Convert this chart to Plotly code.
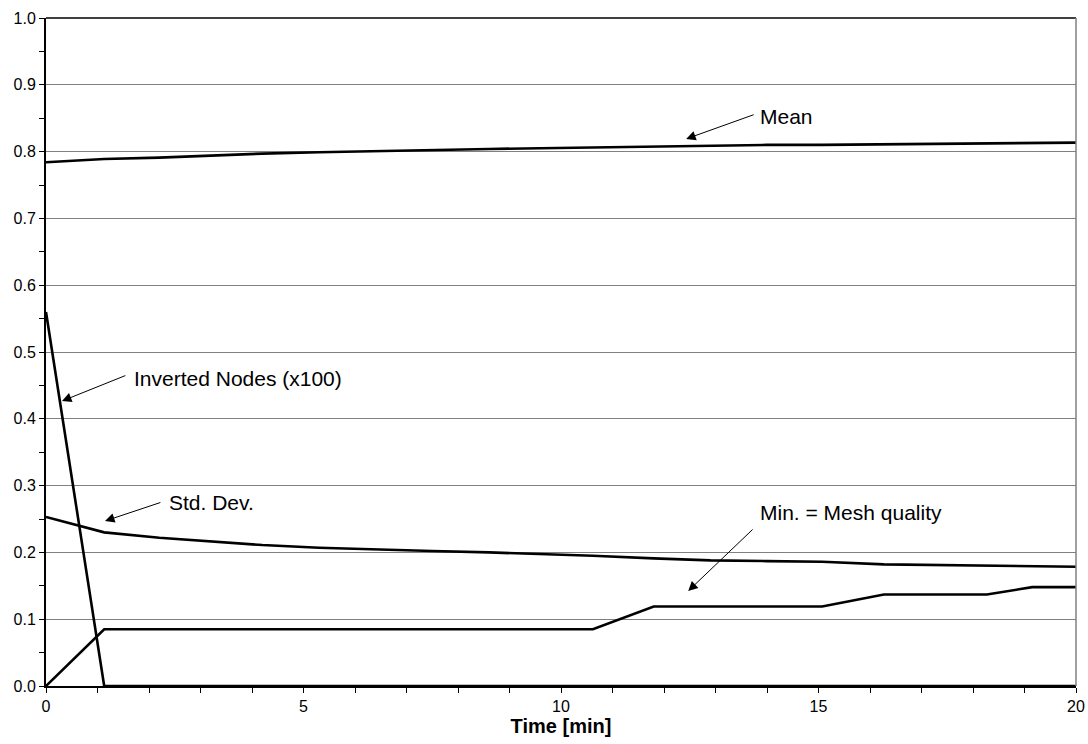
import plotly.graph_objects as go

# ---- data ----
time_min = [0, 1.13, 2.2, 3.2, 4.2, 5.3, 6.4, 7.5, 8.6, 9.6, 10.62,
            11.8, 12.9, 14.0, 15.07, 16.27, 17.3, 18.27, 19.15, 20]
mean_q = [0.784, 0.789, 0.791, 0.794, 0.797, 0.799, 0.801, 0.802, 0.804, 0.805, 0.806,
          0.808, 0.809, 0.810, 0.810, 0.811, 0.812, 0.813, 0.813, 0.8135]
std_dev = [0.253, 0.230, 0.222, 0.216, 0.211, 0.207, 0.204, 0.202, 0.200, 0.198, 0.195,
           0.191, 0.188, 0.187, 0.186, 0.182, 0.181, 0.180, 0.179, 0.1785]
min_q = [0.0, 0.085, 0.085, 0.085, 0.085, 0.085, 0.085, 0.085, 0.085, 0.085, 0.085,
         0.119, 0.119, 0.119, 0.119, 0.137, 0.137, 0.137, 0.148, 0.148]
inverted_x100 = [0.56, 0.0, 0.0, 0.0, 0.0, 0.0, 0.0, 0.0, 0.0, 0.0, 0.0,
                 0.0, 0.0, 0.0, 0.0, 0.0, 0.0, 0.0, 0.0, 0.0]

# annotation labels: (text, head_x, head_y, tail_x, tail_y, text_x, text_y)
labels = [
    ("Mean", 12.43, 0.819, 13.77, 0.856, 13.83, 0.853),
    ("Inverted Nodes (x100)", 0.31, 0.4266, 1.57, 0.4656, 1.67, 0.461),
    ("Std. Dev.", 1.146, 0.247, 2.25, 0.2754, 2.35, 0.274),
    ("Min. = Mesh quality", 12.47, 0.1422, 13.75, 0.2365, 13.82, 0.259),
]

FONT = "Liberation Sans, Arial, sans-serif"

fig = go.Figure()
for name, ys in [("Mean", mean_q), ("Std. Dev.", std_dev),
                 ("Min.", min_q), ("Inverted Nodes (x100)", inverted_x100)]:
    fig.add_trace(go.Scatter(x=time_min, y=ys, mode="lines", name=name,
                             line=dict(color="black", width=2.6), showlegend=False,
                             cliponaxis=False))

annotations = []
for text, hx, hy, tx, ty, lx, ly in labels:
    annotations.append(dict(x=hx, y=hy, ax=tx, ay=ty, xref="x", yref="y",
                            axref="x", ayref="y", text="", showarrow=True,
                            arrowhead=2, arrowsize=1.9, arrowwidth=1, arrowcolor="black"))
    annotations.append(dict(x=lx, y=ly, xref="x", yref="y", text=text, showarrow=False,
                            xanchor="left", yanchor="middle",
                            font=dict(family=FONT, size=21, color="black")))

fig.update_layout(
    width=1088, height=744,
    margin=dict(l=46, r=12, t=18, b=58, autoexpand=False),
    paper_bgcolor="white", plot_bgcolor="white",
    font=dict(family=FONT, size=16, color="black"),
    annotations=annotations,
    shapes=[
        dict(type="line", xref="paper", yref="paper", x0=0, x1=1, y0=1, y1=1,
             line=dict(color="black", width=1.5)),
        dict(type="line", xref="paper", yref="paper", x0=1, x1=1, y0=0, y1=1,
             line=dict(color="#808080", width=1.5)),
    ],
    xaxis=dict(range=[0, 20], tickmode="linear", tick0=0, dtick=5, automargin=False,
               showgrid=False, zeroline=False, showline=True, linecolor="black",
               linewidth=2, ticks="outside", ticklen=5, tickcolor="black",
               tickfont=dict(size=16),
               minor=dict(tickmode="linear", tick0=0, dtick=1, ticks="outside",
                          ticklen=5, tickcolor="black", showgrid=False),
               title=dict(text="<b>Time [min]</b>", font=dict(size=20), standoff=2)),
    yaxis=dict(range=[0, 1.0], tickmode="linear", tick0=0, dtick=0.1, automargin=False,
               tickformat=".1f", showgrid=True, gridcolor="#808080", gridwidth=1,
               zeroline=False, showline=True, linecolor="black", linewidth=2,
               ticks="outside", ticklen=5, tickcolor="black", tickfont=dict(size=16),
               minor=dict(tickmode="linear", tick0=0, dtick=0.05, ticks="outside",
                          ticklen=5, tickcolor="black", showgrid=False)),
)

fig.write_html("out.html", config={"displayModeBar": False},
               post_script="document.body.style.margin='0';document.body.style.overflow='hidden';")
